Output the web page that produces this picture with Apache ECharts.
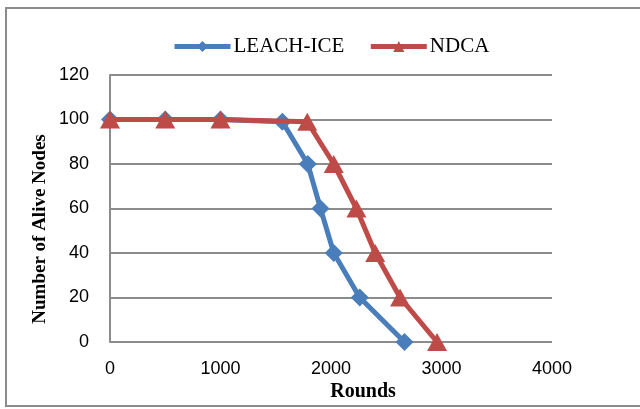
<!DOCTYPE html>
<html>
<head>
<meta charset="utf-8">
<script src="https://cdn.jsdelivr.net/npm/echarts@6/dist/echarts.min.js"></script>
<style>
html,body{margin:0;padding:0;background:#fff;}
#chart{width:640px;height:409px;}
</style>
</head>
<body>
<div id="chart"></div>
<script>
var seriesNames = ['LEACH-ICE', 'NDCA'];
var leachRounds = [0, 500, 1000, 1560, 1790, 1905, 2025, 2260, 2665];
var leachAlive  = [100, 100, 100, 99, 80, 60, 40, 20, 0];
var ndcaRounds  = [0, 500, 1000, 1785, 2025, 2230, 2400, 2625, 2960];
var ndcaAlive   = [100, 100, 100, 99, 80, 60, 40, 20, 0];
var xTitle = 'Rounds';
var yTitle = 'Number of Alive Nodes';

function pairs(xs, ys) { return xs.map(function (x, i) { return [x, ys[i]]; }); }

var chart = echarts.init(document.getElementById('chart'), null, {renderer: 'canvas'});
var gridColor = '#8c8c8c';
chart.setOption({
  animation: false,
  backgroundColor: '#fff',
  legend: {
    left: 172, top: 36, padding: 0,
    itemWidth: 56, itemHeight: 14, itemGap: 24,
    lineStyle: {width: 5},
    textStyle: {fontFamily: 'Liberation Serif', fontSize: 21, color: '#000', padding: [0, 0, 0, -2]},
    data: seriesNames
  },
  grid: {left: 110, right: 88, top: 75, bottom: 67},
  xAxis: {
    type: 'value', min: 0, max: 4000, interval: 1000,
    axisLine: {show: false},
    axisTick: {show: false},
    splitLine: {show: false},
    axisLabel: {fontFamily: 'Liberation Sans', fontSize: 18, color: '#000', margin: 18,
      formatter: function (v) { return String(v); }}
  },
  yAxis: {
    type: 'value', min: 0, max: 120, interval: 20,
    axisLine: {show: true, lineStyle: {color: gridColor, width: 2}},
    axisTick: {show: false},
    splitLine: {show: true, lineStyle: {color: gridColor, width: 2}},
    axisLabel: {fontFamily: 'Liberation Sans', fontSize: 18, color: '#000', margin: 21}
  },
  graphic: [
    {type: 'rect', shape: {x: 6, y: 8, width: 660, height: 398}, style: {fill: 'none', stroke: '#8c8c8c', lineWidth: 2}, z: 100},
    {type: 'text', x: 363, y: 392, style: {text: xTitle, font: 'bold 20px "Liberation Serif"', fill: '#000', textAlign: 'center', textVerticalAlign: 'middle'}},
    {type: 'text', x: 40, y: 229, rotation: Math.PI / 2, style: {text: yTitle, font: 'bold 19px "Liberation Serif"', fill: '#000', textAlign: 'center', textVerticalAlign: 'middle'}}
  ],
  series: [
    {
      name: seriesNames[0], type: 'line', data: pairs(leachRounds, leachAlive),
      symbol: 'diamond', symbolSize: 18,
      lineStyle: {color: '#4a7ebb', width: 5},
      itemStyle: {color: '#4a7ebb'}, z: 2
    },
    {
      name: seriesNames[1], type: 'line', data: pairs(ndcaRounds, ndcaAlive),
      symbol: 'triangle', symbolSize: [20, 18],
      lineStyle: {color: '#be4b48', width: 5},
      itemStyle: {color: '#be4b48'}, z: 3
    }
  ]
});
</script>
</body>
</html>
